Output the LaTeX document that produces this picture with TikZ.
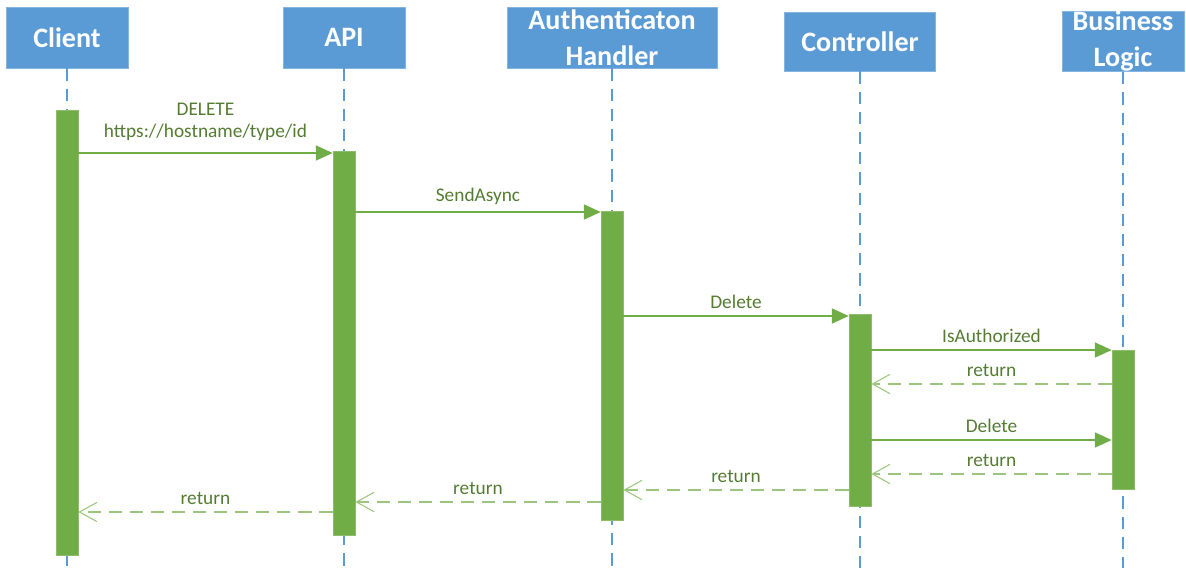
\documentclass[tikz,border=0pt]{standalone}
\usepackage{fontspec}
\setmainfont{Carlito}
\usetikzlibrary{arrows.meta, positioning}

\begin{document}
\begin{tikzpicture}[
    x=0.02cm, y=-0.02cm,
    head/.style={fill=hblue, draw=hblue!75!white, text=white, font=\fontsize{16}{20.5}\selectfont\bfseries, align=center, inner sep=0pt},
    bar/.style={fill=mgrn, draw=mgrn!80!white, line width=0.4pt, minimum width=0.44cm, inner sep=0pt},
    life/.style={draw=hblue, line width=0.6pt, dash pattern=on 7pt off 4.5pt},
    call/.style={draw=mgrn, line width=0.85pt, -{Triangle[length=9.5pt, width=8.5pt]}},
    reply/.style={draw=mgrn!70, line width=0.85pt, dash pattern=on 7.5pt off 4.5pt, -{Straight Barb[length=10pt, width=11pt, line width=0.6pt]}},
    msg/.style={midway, above=2pt, inner sep=2pt, text=ltxt, font=\fontsize{11}{12.5}\selectfont, align=center}
]

\definecolor{hblue}{RGB}{91,155,213}
\definecolor{mgrn}{RGB}{112,173,71}
\definecolor{ltxt}{RGB}{84,124,50}

\useasboundingbox (0,0) rectangle (1186,568);

\node[head, minimum width=2.44cm, minimum height=1.22cm] (client) at (67, 37.5) {Client};
\node[head, minimum width=2.44cm, minimum height=1.22cm] (api) at (344, 37.5) {API};
\node[head, minimum width=4.2cm, minimum height=1.22cm] (auth_handler) at (612, 37.5) {Authenticaton\\Handler};
\node[head, minimum width=3.02cm, minimum height=1.18cm] (controller) at (860, 41.5) {Controller};
\node[head, minimum width=2.44cm, minimum height=1.18cm] (biz_logic) at (1123, 41.5) {Business\\Logic};

\coordinate (bottom) at (0, 568);
\draw[life] (client.south) -- (client.south |- bottom);
\draw[life] (api.south) -- (api.south |- bottom);
\draw[life] (auth_handler.south) -- (auth_handler.south |- bottom);
\draw[life] (controller.south) -- (controller.south |- bottom);
\draw[life] (biz_logic.south) -- (biz_logic.south |- bottom);

\node[bar, minimum height=8.9cm] (client_bar) at (67, 332.5) {};
\node[bar, minimum height=7.68cm] (api_bar) at (344, 343) {};
\node[bar, minimum height=6.18cm] (auth_bar) at (612, 365.5) {};
\node[bar, minimum height=3.84cm] (ctrl_bar) at (860, 410) {};
\node[bar, minimum height=2.78cm] (logic_bar) at (1123, 419.5) {};

\draw[call] (client_bar.east |- 0,153) -- node[msg, above=4.5pt] {DELETE\\https://hostname/type/id} (api_bar.west |- 0,153);
\draw[call] (api_bar.east |- 0,212) -- node[msg] {SendAsync} (auth_bar.west |- 0,212);
\draw[call] (auth_bar.east |- 0,316) -- node[msg] {Delete} (ctrl_bar.west |- 0,316);
\draw[call] (ctrl_bar.east |- 0,350) -- node[msg] {IsAuthorized} (logic_bar.west |- 0,350);
\draw[reply] (logic_bar.west |- 0,384) -- node[msg] {return} (ctrl_bar.east |- 0,384);
\draw[call] (ctrl_bar.east |- 0,440) -- node[msg] {Delete} (logic_bar.west |- 0,440);
\draw[reply] (logic_bar.west |- 0,474) -- node[msg] {return} (ctrl_bar.east |- 0,474);
\draw[reply] (ctrl_bar.west |- 0,490) -- node[msg] {return} (auth_bar.east |- 0,490);
\draw[reply] (auth_bar.west |- 0,502) -- node[msg] {return} (api_bar.east |- 0,502);
\draw[reply] (api_bar.west |- 0,512) -- node[msg] {return} (client_bar.east |- 0,512);

\end{tikzpicture}
\end{document}
